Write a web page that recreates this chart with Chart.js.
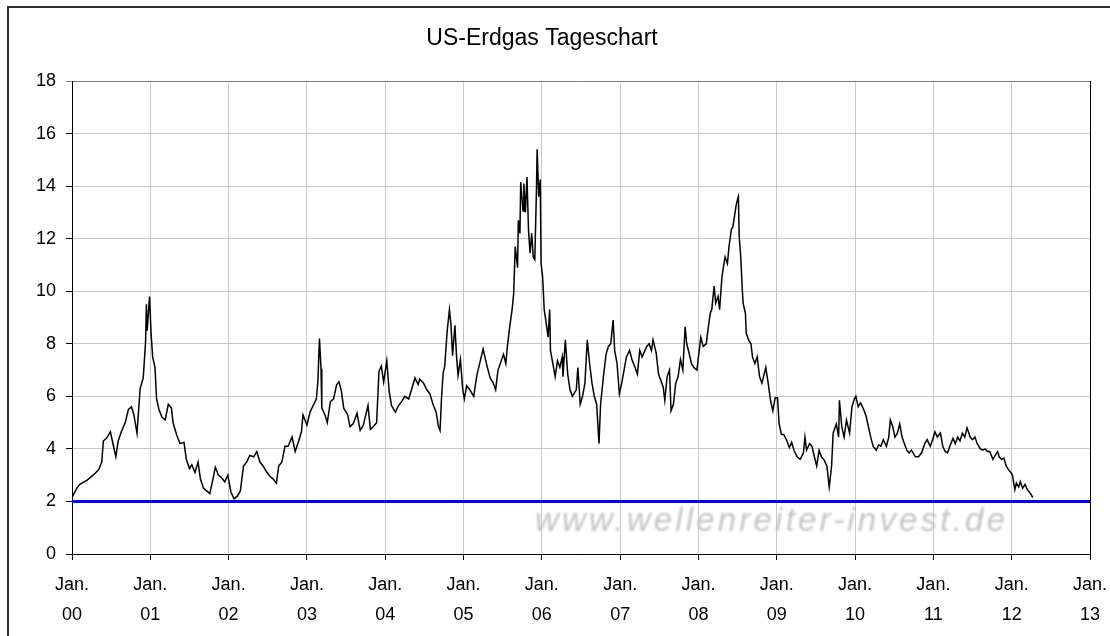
<!DOCTYPE html>
<html>
<head>
<meta charset="utf-8">
<script src="https://cdn.jsdelivr.net/npm/chart.js@4.4.1/dist/chart.umd.min.js"></script>
<style>
  html, body { margin: 0; padding: 0; background: #fff; }
  canvas { display: block; }
</style>
</head>
<body>
<canvas id="erdgasChart" width="1110" height="636"></canvas>
<script>
// Jahre seit Jan. 2000 (x) und Schlusskurse in USD (y)
const jahre = [
  0.00, 0.06, 0.10, 0.19, 0.27, 0.34, 0.38, 0.40, 0.44, 0.49, 0.53, 0.56, 0.59, 0.63, 0.68, 0.72,
  0.76, 0.79, 0.83, 0.87, 0.91, 0.94, 0.95, 0.96, 0.99, 1.01, 1.03, 1.06, 1.08, 1.11, 1.15, 1.19,
  1.23, 1.27, 1.29, 1.34, 1.38, 1.43, 1.46, 1.50, 1.53, 1.57, 1.61, 1.64, 1.68, 1.72, 1.76, 1.80,
  1.83, 1.87, 1.91, 1.95, 1.99, 2.03, 2.07, 2.11, 2.15, 2.19, 2.23, 2.27, 2.32, 2.36, 2.40, 2.44,
  2.48, 2.53, 2.57, 2.61, 2.64, 2.68, 2.72, 2.76, 2.81, 2.85, 2.89, 2.93, 2.95, 3.00, 3.04, 3.08,
  3.12, 3.14, 3.16, 3.18, 3.19, 3.23, 3.26, 3.30, 3.34, 3.38, 3.41, 3.44, 3.47, 3.52, 3.55, 3.59,
  3.64, 3.68, 3.72, 3.78, 3.81, 3.85, 3.89, 3.92, 3.95, 3.98, 4.02, 4.05, 4.08, 4.13, 4.17, 4.21,
  4.25, 4.30, 4.34, 4.38, 4.42, 4.44, 4.49, 4.53, 4.57, 4.61, 4.65, 4.68, 4.70, 4.72, 4.74, 4.76,
  4.79, 4.82, 4.84, 4.86, 4.89, 4.91, 4.93, 4.96, 4.99, 5.01, 5.04, 5.08, 5.13, 5.17, 5.21, 5.25,
  5.30, 5.34, 5.38, 5.41, 5.44, 5.47, 5.51, 5.54, 5.56, 5.59, 5.62, 5.64, 5.66, 5.69, 5.70, 5.72,
  5.73, 5.76, 5.77, 5.79, 5.81, 5.83, 5.85, 5.87, 5.89, 5.91, 5.93, 5.94, 5.96, 5.98, 5.99, 6.01,
  6.03, 6.05, 6.08, 6.10, 6.11, 6.14, 6.17, 6.20, 6.23, 6.26, 6.27, 6.30, 6.33, 6.36, 6.39, 6.44,
  6.46, 6.49, 6.52, 6.55, 6.58, 6.61, 6.64, 6.67, 6.70, 6.73, 6.75, 6.79, 6.82, 6.85, 6.88, 6.91,
  6.93, 6.96, 6.99, 7.02, 7.05, 7.08, 7.12, 7.15, 7.19, 7.22, 7.25, 7.28, 7.31, 7.34, 7.37, 7.40,
  7.42, 7.46, 7.49, 7.52, 7.55, 7.57, 7.60, 7.63, 7.65, 7.68, 7.71, 7.74, 7.77, 7.80, 7.83, 7.85,
  7.88, 7.91, 7.94, 7.98, 8.00, 8.03, 8.06, 8.10, 8.12, 8.15, 8.17, 8.20, 8.22, 8.25, 8.27, 8.30,
  8.32, 8.34, 8.37, 8.39, 8.42, 8.44, 8.46, 8.48, 8.50, 8.51, 8.52, 8.54, 8.56, 8.57, 8.60, 8.61,
  8.64, 8.67, 8.69, 8.72, 8.75, 8.78, 8.81, 8.84, 8.86, 8.89, 8.92, 8.95, 8.98, 9.01, 9.03, 9.06,
  9.09, 9.13, 9.16, 9.19, 9.22, 9.26, 9.30, 9.34, 9.36, 9.38, 9.42, 9.45, 9.48, 9.51, 9.54, 9.57,
  9.60, 9.64, 9.67, 9.70, 9.72, 9.76, 9.79, 9.80, 9.83, 9.86, 9.89, 9.93, 9.96, 9.99, 10.01, 10.04,
  10.07, 10.11, 10.14, 10.17, 10.20, 10.23, 10.27, 10.30, 10.33, 10.36, 10.40, 10.43, 10.45, 10.48, 10.51, 10.54,
  10.57, 10.60, 10.63, 10.66, 10.69, 10.72, 10.77, 10.81, 10.85, 10.89, 10.92, 10.96, 10.99, 11.02, 11.05, 11.09,
  11.12, 11.15, 11.18, 11.21, 11.25, 11.28, 11.31, 11.34, 11.37, 11.40, 11.43, 11.47, 11.50, 11.53, 11.56, 11.60,
  11.63, 11.66, 11.69, 11.72, 11.76, 11.79, 11.82, 11.84, 11.87, 11.90, 11.93, 11.96, 11.99, 12.01, 12.04, 12.06,
  12.09, 12.11, 12.14, 12.17, 12.20, 12.24, 12.27
];
const preise = [
  2.15, 2.5, 2.65, 2.8, 3.0, 3.2, 3.5, 4.3, 4.4, 4.65, 4.1, 3.7, 4.3, 4.65, 5.0, 5.5,
  5.6, 5.3, 4.6, 6.3, 6.7, 8.1, 9.5, 8.5, 9.8, 8.4, 7.5, 7.1, 5.9, 5.5, 5.2, 5.1,
  5.7, 5.55, 5.0, 4.5, 4.2, 4.25, 3.6, 3.25, 3.4, 3.1, 3.5, 2.85, 2.5, 2.4, 2.3, 2.85,
  3.3, 3.0, 2.9, 2.75, 3.0, 2.35, 2.1, 2.2, 2.4, 3.35, 3.5, 3.75, 3.7, 3.9, 3.5, 3.35,
  3.15, 2.95, 2.85, 2.7, 3.35, 3.5, 4.1, 4.1, 4.45, 3.9, 4.25, 4.65, 5.3, 4.9, 5.4, 5.65,
  5.9, 6.55, 8.2, 7.05, 5.55, 5.3, 5.0, 5.8, 5.9, 6.45, 6.55, 6.2, 5.55, 5.3, 4.85, 4.95,
  5.35, 4.7, 4.9, 5.65, 4.75, 4.85, 5.0, 6.95, 7.15, 6.55, 7.35, 6.2, 5.65, 5.4, 5.65, 5.8,
  6.0, 5.9, 6.3, 6.7, 6.45, 6.65, 6.5, 6.25, 6.1, 5.7, 5.4, 4.85, 4.7, 6.0, 6.9, 7.15,
  8.45, 9.3, 8.7, 7.55, 8.7, 7.55, 6.8, 7.4, 6.25, 5.9, 6.4, 6.25, 6.0, 6.8, 7.3, 7.8,
  7.15, 6.7, 6.5, 6.25, 7.0, 7.25, 7.6, 7.25, 7.9, 8.65, 9.3, 9.9, 11.7, 10.9, 12.7, 12.2,
  14.15, 13.05, 14.1, 13.0, 14.35, 12.3, 11.45, 12.2, 11.3, 11.2, 13.7, 15.4, 13.6, 14.25, 11.05, 10.55,
  9.3, 8.9, 8.25, 9.3, 7.75, 7.25, 6.75, 7.35, 7.1, 7.5, 6.75, 8.15, 6.85, 6.25, 6.0, 6.25,
  7.1, 5.7, 6.0, 6.5, 8.15, 7.25, 6.5, 6.0, 5.7, 4.2, 5.7, 6.85, 7.6, 7.9, 8.0, 8.9,
  7.75, 7.25, 6.1, 6.5, 7.0, 7.5, 7.75, 7.4, 7.1, 6.85, 7.75, 7.5, 7.7, 7.9, 8.0, 7.75,
  8.15, 7.65, 6.85, 6.6, 6.35, 5.85, 6.75, 7.0, 5.45, 5.7, 6.5, 6.75, 7.4, 7.0, 8.65, 8.0,
  7.65, 7.25, 7.1, 7.0, 7.5, 8.25, 7.9, 8.0, 8.5, 9.15, 9.3, 10.2, 9.55, 9.8, 9.3, 10.55,
  10.95, 11.3, 11.05, 11.7, 12.35, 12.45, 12.85, 13.25, 13.5, 13.6, 12.1, 11.3, 10.05, 9.55, 9.15, 8.4,
  8.15, 8.0, 7.5, 7.25, 7.5, 6.75, 6.5, 6.85, 7.1, 6.5, 5.85, 5.45, 5.95, 5.95, 4.95, 4.55,
  4.55, 4.3, 4.05, 4.25, 3.95, 3.7, 3.6, 3.85, 4.45, 3.95, 4.2, 4.1, 3.7, 3.35, 3.95, 3.7,
  3.6, 3.35, 2.55, 3.35, 4.6, 4.95, 4.45, 5.85, 4.85, 4.45, 5.1, 4.6, 5.6, 5.9, 6.0, 5.6,
  5.75, 5.5, 5.25, 4.85, 4.45, 4.1, 3.95, 4.15, 4.1, 4.35, 4.1, 4.45, 5.1, 4.85, 4.45, 4.6,
  4.95, 4.45, 4.2, 3.95, 3.85, 3.95, 3.7, 3.7, 3.85, 4.2, 4.35, 4.1, 4.35, 4.65, 4.45, 4.6,
  4.1, 3.9, 3.85, 4.1, 4.4, 4.2, 4.45, 4.3, 4.6, 4.45, 4.8, 4.45, 4.35, 4.45, 4.2, 4.0,
  3.95, 4.0, 3.9, 3.9, 3.6, 3.75, 3.9, 3.7, 3.6, 3.65, 3.35, 3.2, 3.1, 3.0, 2.45, 2.7,
  2.55, 2.75, 2.5, 2.65, 2.45, 2.3, 2.15
];

// Blaue Unterstützungslinie bei 2 USD
const linieX = [0, 13];
const linieY = [2, 2];

// Achsenbeschriftung
const tickJahre = ['00', '01', '02', '03', '04', '05', '06', '07', '08', '09', '10', '11', '12', '13'];
const titel = 'US-Erdgas Tageschart';
const wasserzeichen = 'www.wellenreiter-invest.de';

const schrift = "'Liberation Sans', Arial, sans-serif";

// Rahmen, Titel und Wasserzeichen
const rahmenPlugin = {
  id: 'rahmen',
  beforeDraw(chart) {
    const c = chart.ctx;
    c.save();
    c.fillStyle = '#fff';
    c.fillRect(0, 0, chart.width, chart.height);
    c.strokeStyle = '#303030';
    c.lineWidth = 2;
    c.beginPath();
    c.moveTo(8, chart.height);
    c.lineTo(8, 7);
    c.lineTo(chart.width, 7);
    c.stroke();
    c.fillStyle = '#000';
    c.font = '23px ' + schrift;
    c.textAlign = 'center';
    c.textBaseline = 'middle';
    c.fillText(titel, 542, 39);
    c.restore();
  },
  beforeDatasetsDraw(chart) {
    const c = chart.ctx;
    c.save();
    c.font = 'italic 33px ' + schrift;
    const breite = c.measureText(wasserzeichen).width;
    c.letterSpacing = ((470 - breite) / (wasserzeichen.length - 1)) + 'px';
    c.filter = 'blur(0.8px)';
    c.fillStyle = '#c4c4c4';
    c.textAlign = 'left';
    c.textBaseline = 'alphabetic';
    c.fillText(wasserzeichen, 535, 531);
    c.restore();
  }
};

const ctx = document.getElementById('erdgasChart').getContext('2d');

const erdgasChart = new Chart(ctx, {
  type: 'line',
  data: {
    datasets: [
      {
        label: 'Erdgas',
        data: jahre.map((j, i) => ({ x: j, y: preise[i] })),
        borderColor: '#000',
        borderWidth: 1.5,
        pointRadius: 0,
        tension: 0,
        fill: false
      },
      {
        label: 'Unterstützung',
        data: linieX.map((j, i) => ({ x: j, y: linieY[i] })),
        borderColor: '#0000ff',
        borderWidth: 3,
        pointRadius: 0,
        fill: false
      }
    ]
  },
  options: {
    responsive: false,
    animation: false,
    devicePixelRatio: 1,
    layout: {
      padding: { top: 81, right: 20, left: 0, bottom: 0 }
    },
    scales: {
      x: {
        type: 'linear',
        min: 0,
        max: 13,
        afterFit: s => {
          s.height = 82;
          s.paddingLeft = 0;
          s.paddingRight = 0;
        },
        ticks: {
          stepSize: 1,
          autoSkip: false,
          maxRotation: 0,
          padding: 10,
          color: '#000',
          font: { family: schrift, size: 18, lineHeight: 1.667 },
          callback: v => ['Jan.', tickJahre[v]]
        },
        grid: {
          color: c => (c.tick && c.tick.value === 13 ? '#000' : '#c8c8c8'),
          tickColor: '#000',
          tickLength: 6
        },
        border: { color: '#000', width: 1 }
      },
      y: {
        min: 0,
        max: 18,
        afterFit: s => {
          s.width = 72;
          s.paddingTop = 0;
          s.paddingBottom = 0;
        },
        ticks: {
          stepSize: 2,
          padding: 10,
          color: '#000',
          font: { family: schrift, size: 18 }
        },
        grid: {
          color: c => (c.tick && c.tick.value === 18 ? '#808080' : '#c8c8c8'),
          tickColor: c => (c.tick && c.tick.value === 18 ? '#808080' : '#000'),
          tickLength: 6
        },
        border: { color: '#000', width: 1 }
      }
    },
    plugins: {
      legend: { display: false },
      tooltip: { enabled: false },
      title: { display: false }
    }
  },
  plugins: [rahmenPlugin]
});
</script>
</body>
</html>
